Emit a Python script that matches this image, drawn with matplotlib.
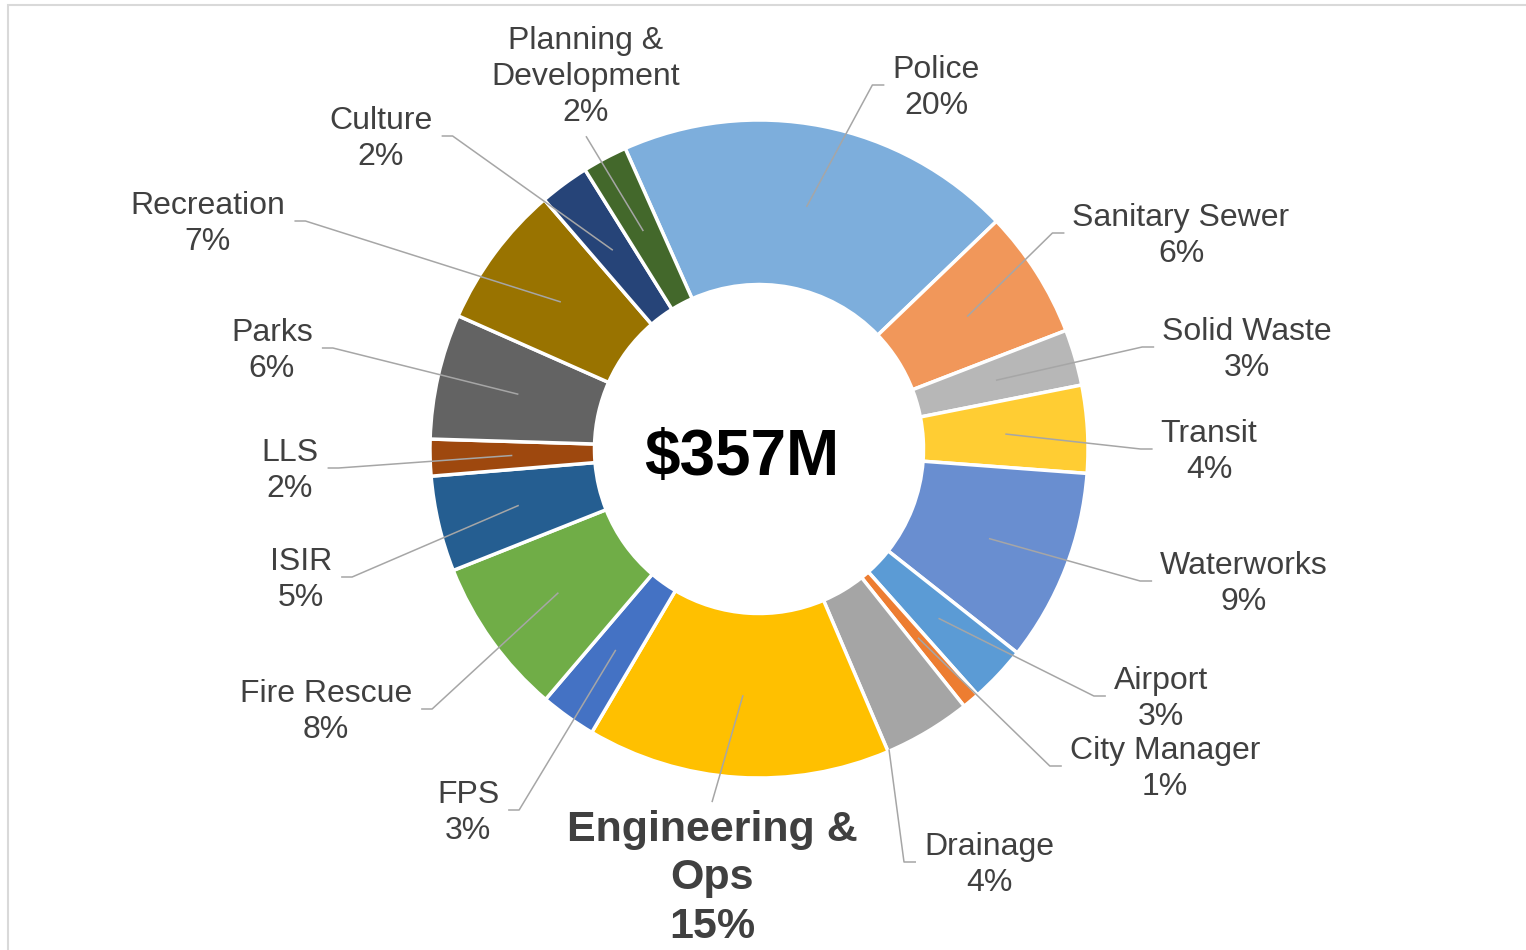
import matplotlib.pyplot as plt
import numpy as np
from matplotlib.patches import Rectangle

# budget share by department, clockwise from Police
departments = ["Police", "Sanitary Sewer", "Solid Waste", "Transit", "Waterworks",
               "Airport", "City Manager", "Drainage", "Engineering &\nOps", "FPS",
               "Fire Rescue", "ISIR", "LLS", "Parks", "Recreation", "Culture",
               "Planning &\nDevelopment"]
shares = [19.5, 6.3, 2.75, 4.3, 9.45, 2.8, 0.85, 4.3, 14.9, 2.75, 7.75, 4.7, 1.8,
          6.15, 7.05, 2.45, 2.2]
pct_labels = ["20%", "6%", "3%", "4%", "9%", "3%", "1%", "4%", "15%", "3%",
              "8%", "5%", "2%", "6%", "7%", "2%", "2%"]
colors = ["#7DAEDC", "#F1975A", "#B7B7B7", "#FFCD33", "#698ED0", "#5B9BD5", "#ED7D31",
          "#A5A5A5", "#FFC000", "#4472C4", "#70AD47", "#255E91", "#9E480E", "#636363",
          "#997300", "#264478", "#43682B"]
total_label = "$357M"

# layout (pixel positions, origin top-left)
W, H = 1526, 950
cx, cy, R = 759, 449, 329
label_pos = [(936, 85), (1181, 233), (1247, 347), (1209, 449), (1244, 581),
             (1161, 696), (1165, 766), (989, 862), (712, 875), (468, 810),
             (326, 709), (301, 577), (290, 468), (272, 348), (208, 221),
             (381, 136), (586, 74)]
sides = ["r", "r", "r", "r", "r", "r", "r", "r", "t", "l",
         "l", "l", "l", "l", "l", "l", "b"]

fig = plt.figure(figsize=(W / 100, H / 100), dpi=100)
ax = fig.add_axes([0, 0, 1, 1])

wedges, _ = ax.pie(shares, colors=colors, startangle=114, counterclock=False,
                   radius=R, center=(cx, H - cy),
                   wedgeprops=dict(width=R * 0.5, edgecolor="white", linewidth=2.5))
ax.set_xlim(0, W)
ax.set_ylim(0, H)
ax.set_aspect("equal")
ax.axis("off")

texts = []
for name, pct, (lx, ly) in zip(departments, pct_labels, label_pos):
    if name.startswith("Engineering"):
        t = ax.text(lx, H - ly - 3.5, name + "\n" + pct, ha="center", va="center",
                    fontsize=31, fontweight="bold", color="#404040",
                    family="Liberation Sans", linespacing=1.27)
    else:
        t = ax.text(lx, H - ly - 3, name + "\n" + pct, ha="center", va="center",
                    fontsize=23, color="#404040", family="Liberation Sans",
                    linespacing=1.27)
    texts.append(t)

ax.text(742, H - 458, total_label, ha="center", va="center", fontsize=46,
        fontweight="bold", color="black", family="Liberation Sans")

fig.canvas.draw()
renderer = fig.canvas.get_renderer()
inv = ax.transData.inverted()

for w, name, t, side, (lx, ly) in zip(wedges, departments, texts, sides, label_pos):
    ang = np.radians((w.theta1 + w.theta2) / 2)
    r = R * 0.75
    if name == "Drainage":
        ang = np.radians(w.theta1 + 0.3)
        r = R * 0.995
    x0 = cx + r * np.cos(ang)
    y0 = (H - cy) + r * np.sin(ang)
    bb = t.get_window_extent(renderer).transformed(inv)
    yc = H - ly
    if side == "r":
        xs = [x0, bb.x0 - 20, bb.x0 - 8]
        ys = [y0, yc, yc]
    elif side == "l":
        xs = [x0, bb.x1 + 20, bb.x1 + 9]
        ys = [y0, yc, yc]
    elif side == "b":
        xs = [x0, lx]
        ys = [y0, bb.y0 - 8]
    else:
        xs = [x0, lx]
        ys = [y0, bb.y1 + 8]
    ax.plot(xs, ys, color="#A6A6A6", lw=1.1, solid_capstyle="butt")

fig.add_artist(Rectangle((7.5 / W, -0.1), 1.2, 1 - 4.5 / H + 0.1,
                         transform=fig.transFigure, fill=False,
                         edgecolor="#D9D9D9", linewidth=1.5))

fig.savefig("out.png", dpi=100)
